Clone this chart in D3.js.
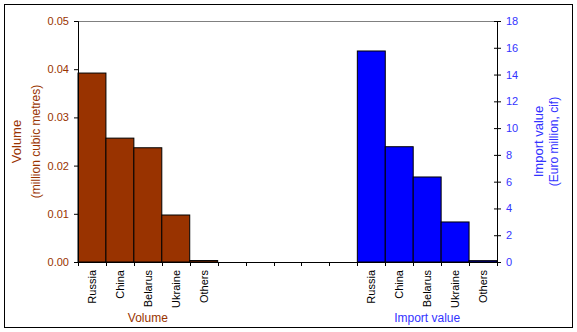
<!DOCTYPE html>
<html><head><meta charset="utf-8">
<script src="https://cdn.jsdelivr.net/npm/d3@7"></script>
<style>body{margin:0;background:#fff}svg{display:block;font-family:"Liberation Sans",Arial,sans-serif}</style>
</head><body><svg id="c" width="577" height="332"></svg>
<script>
const categories = ["Russia","China","Belarus","Ukraine","Others","g1","g2","g3","g4","g5","Russia2","China2","Belarus2","Ukraine2","Others2"];
const catLabels = ["Russia","China","Belarus","Ukraine","Others","","","","","","Russia","China","Belarus","Ukraine","Others"];
const volumeCats = ["Russia","China","Belarus","Ukraine","Others"];
const volumeValues = [0.0392,0.0257,0.0237,0.00975,0.0003];
const importCats = ["Russia2","China2","Belarus2","Ukraine2","Others2"];
const importValues = [15.76,8.61,6.35,2.99,0.1];
const leftTicks = [0,0.01,0.02,0.03,0.04,0.05];
const rightTicks = [0,2,4,6,8,10,12,14,16,18];

const brown = "#993300", blue = "#0000FF", txtBlue = "#3333FF";
const svg = d3.select("#c");
const L = 78, R = 497, T = 21, B = 262;
svg.append("rect").attr("x",4.5).attr("y",4.5).attr("width",568).attr("height",323).attr("fill","none").attr("stroke","#000");

const x = d3.scaleBand().domain(categories).range([L,R]).padding(0);
const yL = d3.scaleLinear().domain([0,0.05]).range([B,T]);
const yR = d3.scaleLinear().domain([0,18]).range([B,T]);

svg.append("line").attr("x1",L).attr("x2",R).attr("y1",T+0.5).attr("y2",T+0.5).attr("stroke","#808080");

svg.append("g").selectAll("rect").data(volumeCats).join("rect")
  .attr("x",d=>x(d)).attr("width",x.bandwidth())
  .attr("y",(d,i)=>yL(volumeValues[i])).attr("height",(d,i)=>B-yL(volumeValues[i]))
  .attr("fill",brown).attr("stroke","#000").attr("stroke-width",1);
svg.append("g").selectAll("rect").data(importCats).join("rect")
  .attr("x",d=>x(d)).attr("width",x.bandwidth())
  .attr("y",(d,i)=>yR(importValues[i])).attr("height",(d,i)=>B-yR(importValues[i]))
  .attr("fill",blue).attr("stroke","#000").attr("stroke-width",1);

// left axis
const gl = svg.append("g").attr("transform",`translate(${L},0)`)
  .call(d3.axisLeft(yL).tickValues(leftTicks).tickFormat(d3.format(".2f")).tickSize(4).tickPadding(5));
gl.select(".domain").attr("stroke","#000");
gl.selectAll("text").attr("fill",brown).style("font-size","11px").style("font-family","Liberation Sans, Arial");
// right axis
const gr = svg.append("g").attr("transform",`translate(${R},0)`)
  .call(d3.axisRight(yR).tickValues(rightTicks).tickSize(4).tickPadding(5));
gr.selectAll(".tick line").attr("x1",-3);
gr.selectAll("text").attr("fill",txtBlue).style("font-size","11px").style("font-family","Liberation Sans, Arial");
// bottom axis
const tickPos = categories.map(c=>x(c)).concat([R]);
const gb = svg.append("g");
gb.append("line").attr("x1",L).attr("x2",R).attr("y1",B+0.5).attr("y2",B+0.5).attr("stroke","#000");
gb.selectAll("line.t").data(tickPos).join("line").attr("class","t")
  .attr("x1",d=>Math.round(d)+0.5).attr("x2",d=>Math.round(d)+0.5).attr("y1",B).attr("y2",B+4).attr("stroke","#000");
gb.selectAll("text").data(categories).join("text")
  .attr("transform",d=>`translate(${x(d)+x.bandwidth()/2+4},${B+8}) rotate(-90)`)
  .attr("text-anchor","end").style("font-size","11px").attr("fill","#000")
  .text((d,i)=>catLabels[i]);

// group titles
const cx = arr => (x(arr[0]) + x(arr[arr.length-1]) + x.bandwidth())/2;
svg.append("text").attr("x",cx(volumeCats)).attr("y",322).attr("text-anchor","middle").attr("fill",brown).style("font-size","12px").text("Volume");
svg.append("text").attr("x",cx(importCats)).attr("y",322).attr("text-anchor","middle").attr("fill",txtBlue).style("font-size","12px").text("Import value");

// y titles
const midY = (T+B)/2;
svg.append("text").attr("transform",`translate(21,${midY}) rotate(-90)`).attr("text-anchor","middle").attr("fill",brown).style("font-size","13px").text("Volume");
svg.append("text").attr("transform",`translate(40,${midY}) rotate(-90)`).attr("text-anchor","middle").attr("fill",brown).style("font-size","12px").text("(million cubic metres)");
svg.append("text").attr("transform",`translate(543,${midY}) rotate(-90)`).attr("text-anchor","middle").attr("fill",txtBlue).style("font-size","13px").text("Import value");
svg.append("text").attr("transform",`translate(558,${midY}) rotate(-90)`).attr("text-anchor","middle").attr("fill",txtBlue).style("font-size","12px").text("(Euro million, cif)");
</script></body></html>
